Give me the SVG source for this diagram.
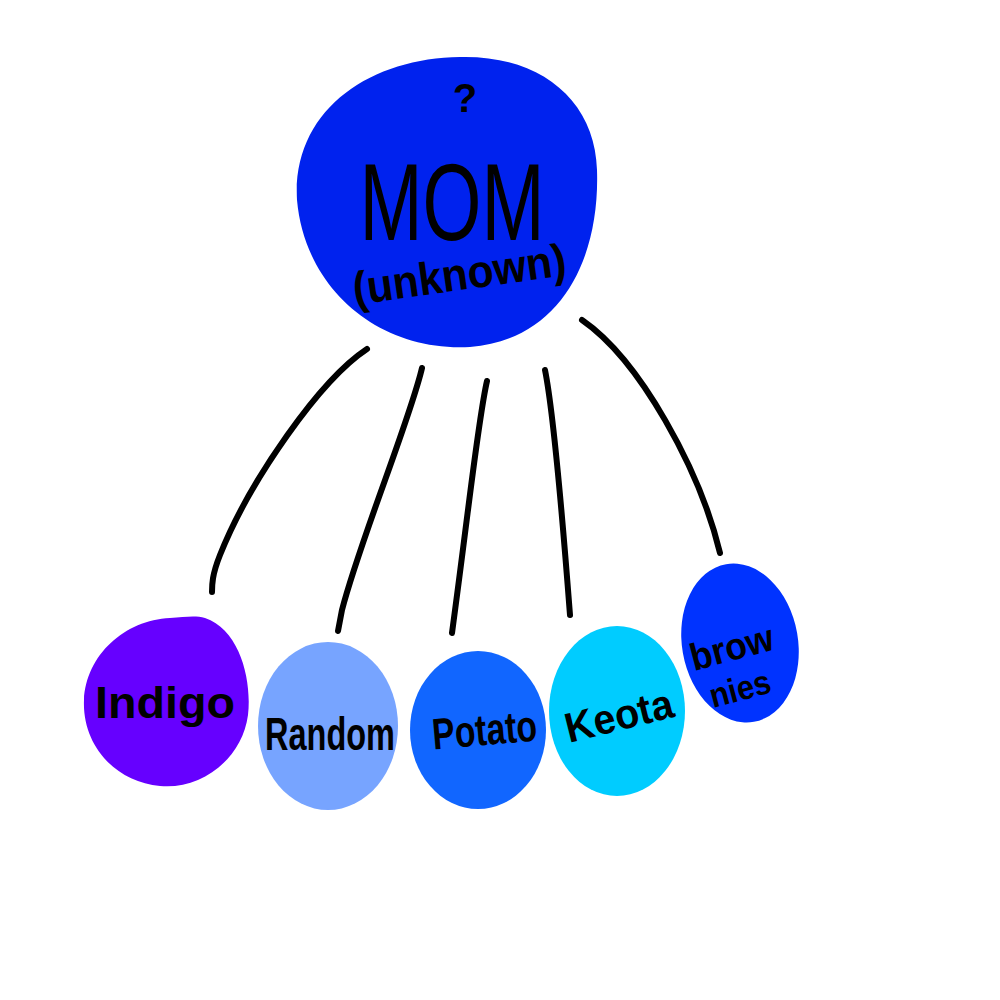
<svg xmlns="http://www.w3.org/2000/svg" width="1000" height="1000" viewBox="0 0 1000 1000">
<style>
.lbl{font-family:"Liberation Sans","DejaVu Sans",sans-serif;font-weight:bold;fill:#000}
.con{fill:none;stroke:#000;stroke-width:6;stroke-linecap:round}
</style>
<rect width="1000" height="1000" fill="#fff"/>
<g id="connectors">
<path class="con" d="M367,349 C320,380 250,480 220,555 C212,575 212,585 212,592"/>
<path class="con" d="M422,368 C410,420 360,540 342,610 L338,631"/>
<path class="con" d="M487,381 C478,420 470,500 452,633"/>
<path class="con" d="M545,370 C555,420 565,550 570,615"/>
<path class="con" d="M582,320 C640,360 700,470 720,553"/>
</g>
<g id="mom">
<path d="M460,57 C540,55 595,100 597,170 C600,260 560,340 470,347 C380,352 305,290 297,200 C292,110 370,58 460,57 Z" fill="#0022EE"/>
<text class="lbl" x="465" y="112" font-size="40" text-anchor="middle">?</text>
<text class="lbl" x="452" y="240" font-size="110" text-anchor="middle" font-weight="normal" textLength="185" lengthAdjust="spacingAndGlyphs" style="font-weight:normal">MOM</text>
<text class="lbl" x="460" y="290" font-size="46" text-anchor="middle" transform="rotate(-8 460 280)" textLength="215" lengthAdjust="spacingAndGlyphs">(unknown)</text>
</g>
<g id="indigo">
<path d="M205,618 C240,630 252,680 248,715 C242,760 200,790 160,786 C115,782 82,745 84,700 C86,655 125,620 170,618 C185,617 195,615 205,618 Z" fill="#6600FF"/>
<text class="lbl" x="165" y="718" font-size="44" text-anchor="middle" textLength="140" lengthAdjust="spacingAndGlyphs">Indigo</text>
</g>
<g id="random">
<ellipse cx="328" cy="726" rx="70" ry="84" fill="#77A4FF"/>
<text class="lbl" x="330" y="750" font-size="46" text-anchor="middle" textLength="130" lengthAdjust="spacingAndGlyphs">Random</text>
</g>
<g id="potato">
<ellipse cx="478" cy="730" rx="68" ry="79" fill="#1166FF"/>
<text class="lbl" x="485" y="745" font-size="44" text-anchor="middle" textLength="105" lengthAdjust="spacingAndGlyphs" transform="rotate(-5 485 735)">Potato</text>
</g>
<g id="keota">
<ellipse cx="617" cy="711" rx="68" ry="85" fill="#00CCFF"/>
<text class="lbl" x="620" y="730" font-size="42" text-anchor="middle" textLength="110" lengthAdjust="spacingAndGlyphs" transform="rotate(-14 620 720)">Keota</text>
</g>
<g id="brownies">
<ellipse cx="740" cy="643" rx="58" ry="80" fill="#0033FF" transform="rotate(-10 740 643)"/>
<text class="lbl" x="735" y="660" font-size="38" text-anchor="middle" textLength="85" lengthAdjust="spacingAndGlyphs" transform="rotate(-15 735 660)">brow</text>
<text class="lbl" x="743" y="700" font-size="34" text-anchor="middle" textLength="62" lengthAdjust="spacingAndGlyphs" transform="rotate(-15 743 700)">nies</text>
</g>
</svg>
